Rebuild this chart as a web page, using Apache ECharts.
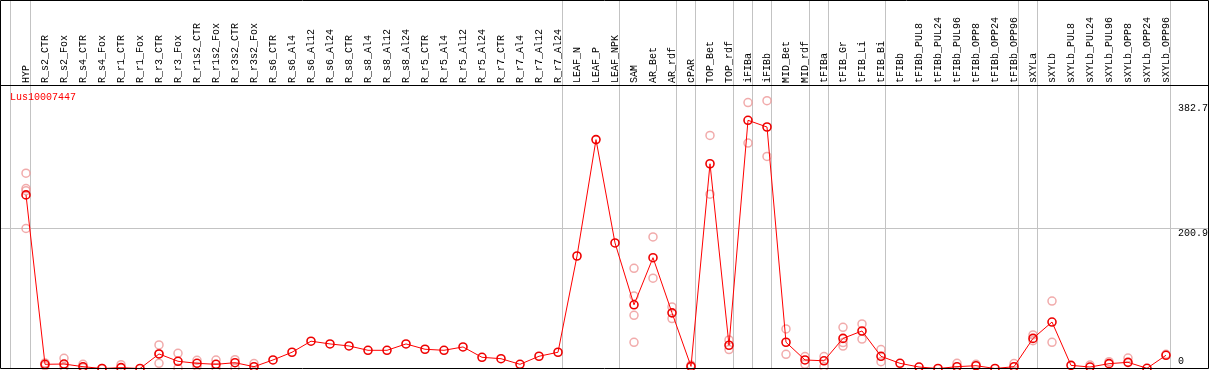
<!DOCTYPE html>
<html>
<head>
<meta charset="utf-8">
<script src="https://cdn.jsdelivr.net/npm/echarts@6.0.0/dist/echarts.min.js"></script>
<style>
html,body{margin:0;padding:0;background:#fff;}
#chart{width:1209px;height:370px;}
</style>
</head>
<body>
<div id="chart"></div>
<script>
var chartTitle = 'Lus10007447';
var categories = ['HYP','R_s2_CTR','R_s2_Fox','R_s4_CTR','R_s4_Fox','R_r1_CTR','R_r1_Fox','R_r3_CTR','R_r3_Fox',
  'R_r1s2_CTR','R_r1s2_Fox','R_r3s2_CTR','R_r3s2_Fox','R_s6_CTR','R_s6_Al4','R_s6_Al12','R_s6_Al24',
  'R_s8_CTR','R_s8_Al4','R_s8_Al12','R_s8_Al24','R_r5_CTR','R_r5_Al4','R_r5_Al12','R_r5_Al24',
  'R_r7_CTR','R_r7_Al4','R_r7_Al12','R_r7_Al24','LEAF_N','LEAF_P','LEAF_NPK','SAM','AR_Bet','AR_rdf',
  'cPAR','TOP_Bet','TOP_rdf','iFIBa','iFIBb','MID_Bet','MID_rdf','tFIBa','tFIB_Gr','tFIB_Li','tFIB_Bi',
  'tFIBb','tFIBb_PUL8','tFIBb_PUL24','tFIBb_PUL96','tFIBb_OPP8','tFIBb_OPP24','tFIBb_OPP96',
  'sXYLa','sXYLb','sXYLb_PUL8','sXYLb_PUL24','sXYLb_PUL96','sXYLb_OPP8','sXYLb_OPP24','sXYLb_OPP96'];
var meanValues = [248, 6, 6.4, 2.6, 0, 1.2, 0, 20.8, 10.3, 7.4, 6, 8.3, 2.6, 12.2, 23.2, 39, 35.1,
  32.2, 26, 26, 35.1, 27.5, 26, 30.8, 16, 14, 6, 17.5, 23.2, 160.7, 327, 179.4, 91, 158.3, 79.5,
  3, 292.5, 33.2, 354.6, 345, 37.5, 12.2, 11, 43, 53.6, 17.4,
  7.4, 2.1, 0, 2.6, 4, 0, 2.6, 43, 66.4, 4.5, 2.1, 6.9, 8.8, 0.3, 18.9];
var replicateValues = [
  [279, 257, 254, 200], [8, 4], [14.6, 2], [6, 1], [0], [5.4], [], [33.7, 7.4, 21], [21.7, 0.5],
  [11.7, 3], [12, 1], [12.6, 0.7], [7], [], [], [], [],
  [], [], [], [], [], [], [], [],
  [], [], [], [], [], [], [], [143.1, 103.6, 76, 37.4], [188, 129], [88, 71.4],
  [2, 5], [333, 249], [40.8, 27], [380, 322], [382.7, 303], [56.6, 20.3], [17, 6], [17, 2.6], [58.8, 32, 37], [63.6, 42], [27, 9.7],
  [], [], [], [7.4], [6], [], [7], [48, 39.7], [96.4, 37.4], [], [5], [9.7], [15], [], [20.3]
];
var yTickLabels = [0, 200.9, 382.7];
var gridLineValues = [200.9];
var groupEndIndex = [0, 28, 31, 34, 35, 37, 38, 39, 41, 42, 45, 52, 53, 60];

var FONT = 'Liberation Mono';

var repData = [];
replicateValues.forEach(function (arr, i) {
  arr.forEach(function (v) { repData.push([i, v]); });
});

var chart = echarts.init(document.getElementById('chart'), null, {renderer: 'canvas'});
chart.setOption({
  animation: false,
  backgroundColor: '#fff',
  grid: {left: 16.5, right: 33.5, top: 86, bottom: 1.5, containLabel: false},
  xAxis: {
    type: 'category', position: 'top', data: categories, boundaryGap: true,
    axisLine: {show: false}, axisTick: {show: false}, splitLine: {show: false},
    axisLabel: {interval: 0, rotate: 90, margin: 3, fontSize: 10, fontFamily: FONT, color: '#000'}
  },
  yAxis: {
    type: 'value', min: 0, max: 403.6, show: false, splitLine: {show: false}
  },
  series: [
    {
      type: 'scatter', data: repData, z: 2, silent: true,
      symbol: 'circle', symbolSize: 8,
      itemStyle: {color: 'rgba(0,0,0,0)', borderColor: '#ee9696', borderWidth: 1.5}
    },
    {
      type: 'line', data: meanValues, z: 3, silent: true, clip: false,
      symbol: 'circle', symbolSize: 8, showAllSymbol: true,
      lineStyle: {color: '#ff0000', width: 1},
      itemStyle: {color: 'rgba(0,0,0,0)', borderColor: '#ee0000', borderWidth: 1.6}
    }
  ]
});

var graphics = [];
gridLineValues.forEach(function (v) {
  var y = Math.round(chart.convertToPixel({yAxisIndex: 0}, v)) + 0.5;
  graphics.push({type: 'line', z: 1, shape: {x1: 0, y1: y, x2: 1208, y2: y}, style: {stroke: '#c3c3c3', lineWidth: 1}});
});
var firstX = chart.convertToPixel({xAxisIndex: 0}, 0);
graphics.push({type: 'line', z: 1, shape: {x1: firstX - 15.5, y1: 0, x2: firstX - 15.5, y2: 369}, style: {stroke: '#c3c3c3', lineWidth: 1}});
groupEndIndex.forEach(function (i) {
  var x = Math.round(chart.convertToPixel({xAxisIndex: 0}, i)) + 4.5;
  graphics.push({type: 'line', z: 1, shape: {x1: x, y1: 0, x2: x, y2: 369}, style: {stroke: '#c3c3c3', lineWidth: 1}});
});
graphics.push({type: 'line', z: 5, shape: {x1: 0, y1: 85.5, x2: 1208, y2: 85.5}, style: {stroke: '#000', lineWidth: 1}});
graphics.push({type: 'rect', z: 5, shape: {x: 0.5, y: 0.5, width: 1208, height: 368}, style: {fill: null, stroke: '#000', lineWidth: 1}});
var lastX = chart.convertToPixel({xAxisIndex: 0}, categories.length - 1);
yTickLabels.forEach(function (v) {
  var y = chart.convertToPixel({yAxisIndex: 0}, v);
  var isZero = v === 0;
  graphics.push({type: 'text', z: 6, x: lastX + 12, y: isZero ? y - 2 : y + (v > 300 ? 3 : 0),
    style: {text: String(v), font: '10px "' + FONT + '"', fill: '#000', textAlign: 'left', textVerticalAlign: isZero ? 'bottom' : 'top'}});
});
graphics.push({type: 'text', z: 6, x: 10, y: 92, style: {text: chartTitle, font: '10px "' + FONT + '"', fill: '#ff0000', textAlign: 'left', textVerticalAlign: 'top'}});

chart.setOption({graphic: graphics});
</script>
</body>
</html>
